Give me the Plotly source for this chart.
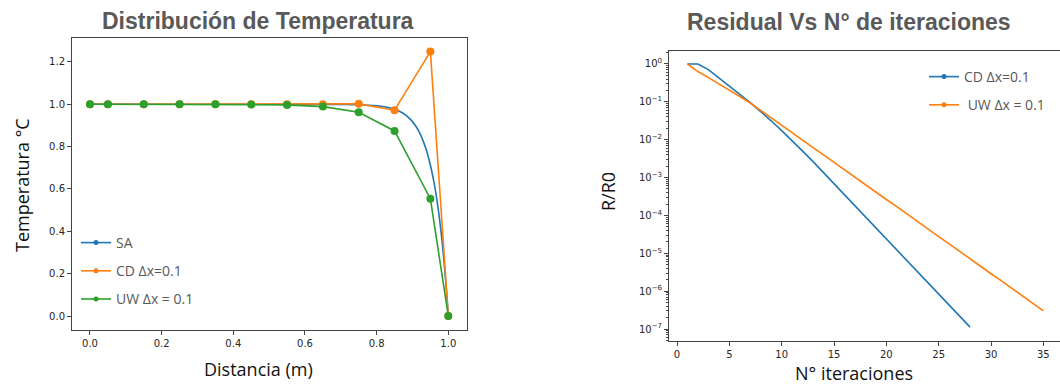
import plotly.graph_objects as go

# --- Temperature distribution along the domain ---
x_sa = [0.0, 0.1, 0.2, 0.3, 0.4, 0.5, 0.6, 0.7, 0.75, 0.8, 0.83, 0.85, 0.87, 0.88, 0.89,
        0.9, 0.91, 0.92, 0.93, 0.94, 0.95, 0.96, 0.965, 0.97, 0.975, 0.98, 0.985,
        0.99, 0.995, 1.0]
t_sa = [1.0, 1.0, 1.0, 1.0, 1.0, 1.0, 1.0, 0.999, 0.998, 0.993, 0.986, 0.976, 0.961,
        0.950, 0.936, 0.918, 0.895, 0.865, 0.826, 0.777, 0.713, 0.632, 0.583, 0.528,
        0.465, 0.394, 0.313, 0.221, 0.118, 0.0]

x_nodes = [0.0, 0.05, 0.15, 0.25, 0.35, 0.45, 0.55, 0.65, 0.75, 0.85, 0.95, 1.0]
t_cd = [1.0, 1.0, 1.0, 1.0, 1.0, 1.0, 1.0, 1.0, 1.002, 0.972, 1.249, 0.0]
t_uw = [1.0, 1.0, 1.0, 1.0, 1.0, 0.999, 0.997, 0.989, 0.962, 0.874, 0.554, 0.0]

# --- Residual history ---
it_cd = list(range(1, 29))
res_cd = [1.0, 1.0, 0.708, 0.437, 0.269, 0.158, 0.0955, 0.0562, 0.0316, 0.0174,
          9.55e-3, 5.01e-3, 2.63e-3, 1.35e-3, 6.92e-4, 3.55e-4, 1.82e-4, 9.33e-5,
          4.79e-5, 2.45e-5, 1.26e-5, 6.46e-6, 3.31e-6, 1.70e-6, 8.71e-7, 4.47e-7,
          2.24e-7, 1.12e-7]
it_uw = list(range(1, 36))
res_uw = [1.0, 0.631, 0.437, 0.302, 0.204, 0.138, 0.0933, 0.0589, 0.0380, 0.0240,
          0.0155, 9.77e-3, 6.17e-3, 3.98e-3, 2.51e-3, 1.62e-3, 1.02e-3, 6.46e-4,
          4.17e-4, 2.63e-4, 1.70e-4, 1.07e-4, 6.92e-5, 4.37e-5, 2.75e-5, 1.78e-5,
          1.12e-5, 7.24e-6, 4.57e-6, 2.88e-6, 1.86e-6, 1.17e-6, 7.59e-7, 4.79e-7,
          3.02e-7]

log_ticks = [10 ** -k for k in range(0, 8)]
log_labels = ["10<sup>0</sup>"] + ["10<sup>\u2212%d</sup>" % k for k in range(1, 8)]
log_minor = [m * 10 ** -k for k in range(0, 9) for m in range(2, 10)]

BLUE, ORANGE, GREEN = "#1f77b4", "#ff7f0e", "#2ca02c"
GRAY = "#595959"
TICK_FONT = dict(family="DejaVu Sans", size=10, color="#262626")
LABEL_FONT = dict(family="Open Sans", size=18, color="#111111")
TITLE_FONT = dict(family="Liberation Sans", size=23, color=GRAY)

fig = go.Figure()

# left panel data
fig.add_trace(go.Scatter(x=x_sa, y=t_sa, mode="lines",
                         line=dict(color=BLUE, width=1.6, shape="spline", smoothing=0.6),
                         showlegend=False, xaxis="x", yaxis="y"))
fig.add_trace(go.Scatter(x=x_nodes, y=t_cd, mode="lines+markers",
                         line=dict(color=ORANGE, width=1.6), marker=dict(size=8, color=ORANGE),
                         showlegend=False, xaxis="x", yaxis="y"))
fig.add_trace(go.Scatter(x=x_nodes, y=t_uw, mode="lines+markers",
                         line=dict(color=GREEN, width=1.6), marker=dict(size=8, color=GREEN),
                         showlegend=False, xaxis="x", yaxis="y"))

# right panel data
fig.add_trace(go.Scatter(x=it_cd, y=res_cd, mode="lines", line=dict(color=BLUE, width=1.6),
                         showlegend=False, xaxis="x2", yaxis="y2"))
fig.add_trace(go.Scatter(x=it_uw, y=res_uw, mode="lines", line=dict(color=ORANGE, width=1.6),
                         showlegend=False, xaxis="x2", yaxis="y2"))

# legend entries (small dot markers)
def legend_entry(name, color, legend, group):
    return go.Scatter(x=[None], y=[None], mode="lines+markers", name=name,
                      line=dict(color=color, width=1.6), marker=dict(size=5, color=color),
                      legend=legend, legendgroup=group, showlegend=True,
                      xaxis="x", yaxis="y")

fig.add_trace(legend_entry("SA", BLUE, "legend", "a"))
fig.add_trace(legend_entry("CD \u0394x=0.1", ORANGE, "legend", "b"))
fig.add_trace(legend_entry("UW \u0394x = 0.1", GREEN, "legend", "c"))
fig.add_trace(legend_entry("CD \u0394x=0.1", BLUE, "legend2", "d"))
fig.add_trace(legend_entry("\u00a0UW \u0394x = 0.1", ORANGE, "legend2", "e"))

frame = dict(showline=True, linecolor="#444444", linewidth=1, ticks="outside",
             ticklen=4, tickcolor="#444444", tickfont=TICK_FONT, showgrid=False,
             zeroline=False)

W, H = 1060, 385

fig.update_layout(
    width=W, height=H,
    margin=dict(l=0, r=0, t=0, b=0),
    paper_bgcolor="white", plot_bgcolor="white",
    xaxis=dict(domain=[72 / W, 467 / W], range=[-0.0502, 1.0522], anchor="y",
               tickvals=[0, 0.2, 0.4, 0.6, 0.8, 1.0], tickformat=".1f", mirror=True, **frame),
    yaxis=dict(domain=[55 / H, 347 / H], range=[-0.0661, 1.313], anchor="x",
               tickvals=[0, 0.2, 0.4, 0.6, 0.8, 1.0, 1.2], tickformat=".1f", mirror=True, **frame),
    xaxis2=dict(domain=[669 / W, 1.0], range=[-0.764, 36.59], anchor="y2",
                tickvals=[0, 5, 10, 15, 20, 25, 30, 35], mirror=True, **frame),
    yaxis2=dict(domain=[44 / H, 334 / H], type="log", range=[-7.317, 0.343], anchor="x2",
                tickmode="array", tickvals=log_ticks, ticktext=log_labels, mirror=False,
                minor=dict(tickmode="array", tickvals=log_minor, ticks="outside", ticklen=2,
                           tickcolor="#444444", tickwidth=1, showgrid=False),
                **frame),
    legend=dict(x=76 / W, y=(H - 227) / H, xanchor="left", yanchor="top",
                bgcolor="rgba(0,0,0,0)", font=dict(family="Open Sans", size=14, color=GRAY),
                itemwidth=30, tracegroupgap=7, traceorder="grouped"),
    legend2=dict(x=924 / W, y=(H - 61) / H, xanchor="left", yanchor="top",
                 bgcolor="rgba(0,0,0,0)", font=dict(family="Open Sans", size=14, color=GRAY),
                 itemwidth=30, tracegroupgap=7, traceorder="grouped"),
)

annotations = [
    dict(text="<b>Distribución de Temperatura</b>", x=258 / W, y=(H - 21) / H, font=TITLE_FONT),
    dict(text="<b>Residual Vs N° de iteraciones</b>", x=849 / W, y=(H - 22) / H, font=TITLE_FONT),
    dict(text="Distancia (m)", x=258 / W, y=(H - 369) / H, font=LABEL_FONT),
    dict(text="N° iteraciones", x=854 / W, y=(H - 373) / H, font=LABEL_FONT),
    dict(text="Temperatura °C", x=22 / W, y=(H - 185) / H, font=LABEL_FONT, textangle=-90),
    dict(text="R/R0", x=608 / W, y=(H - 192) / H, font=LABEL_FONT, textangle=-90),
]
for a in annotations:
    fig.add_annotation(xref="paper", yref="paper", showarrow=False,
                       xanchor="center", yanchor="middle", **a)

fig.write_html("out.html")
